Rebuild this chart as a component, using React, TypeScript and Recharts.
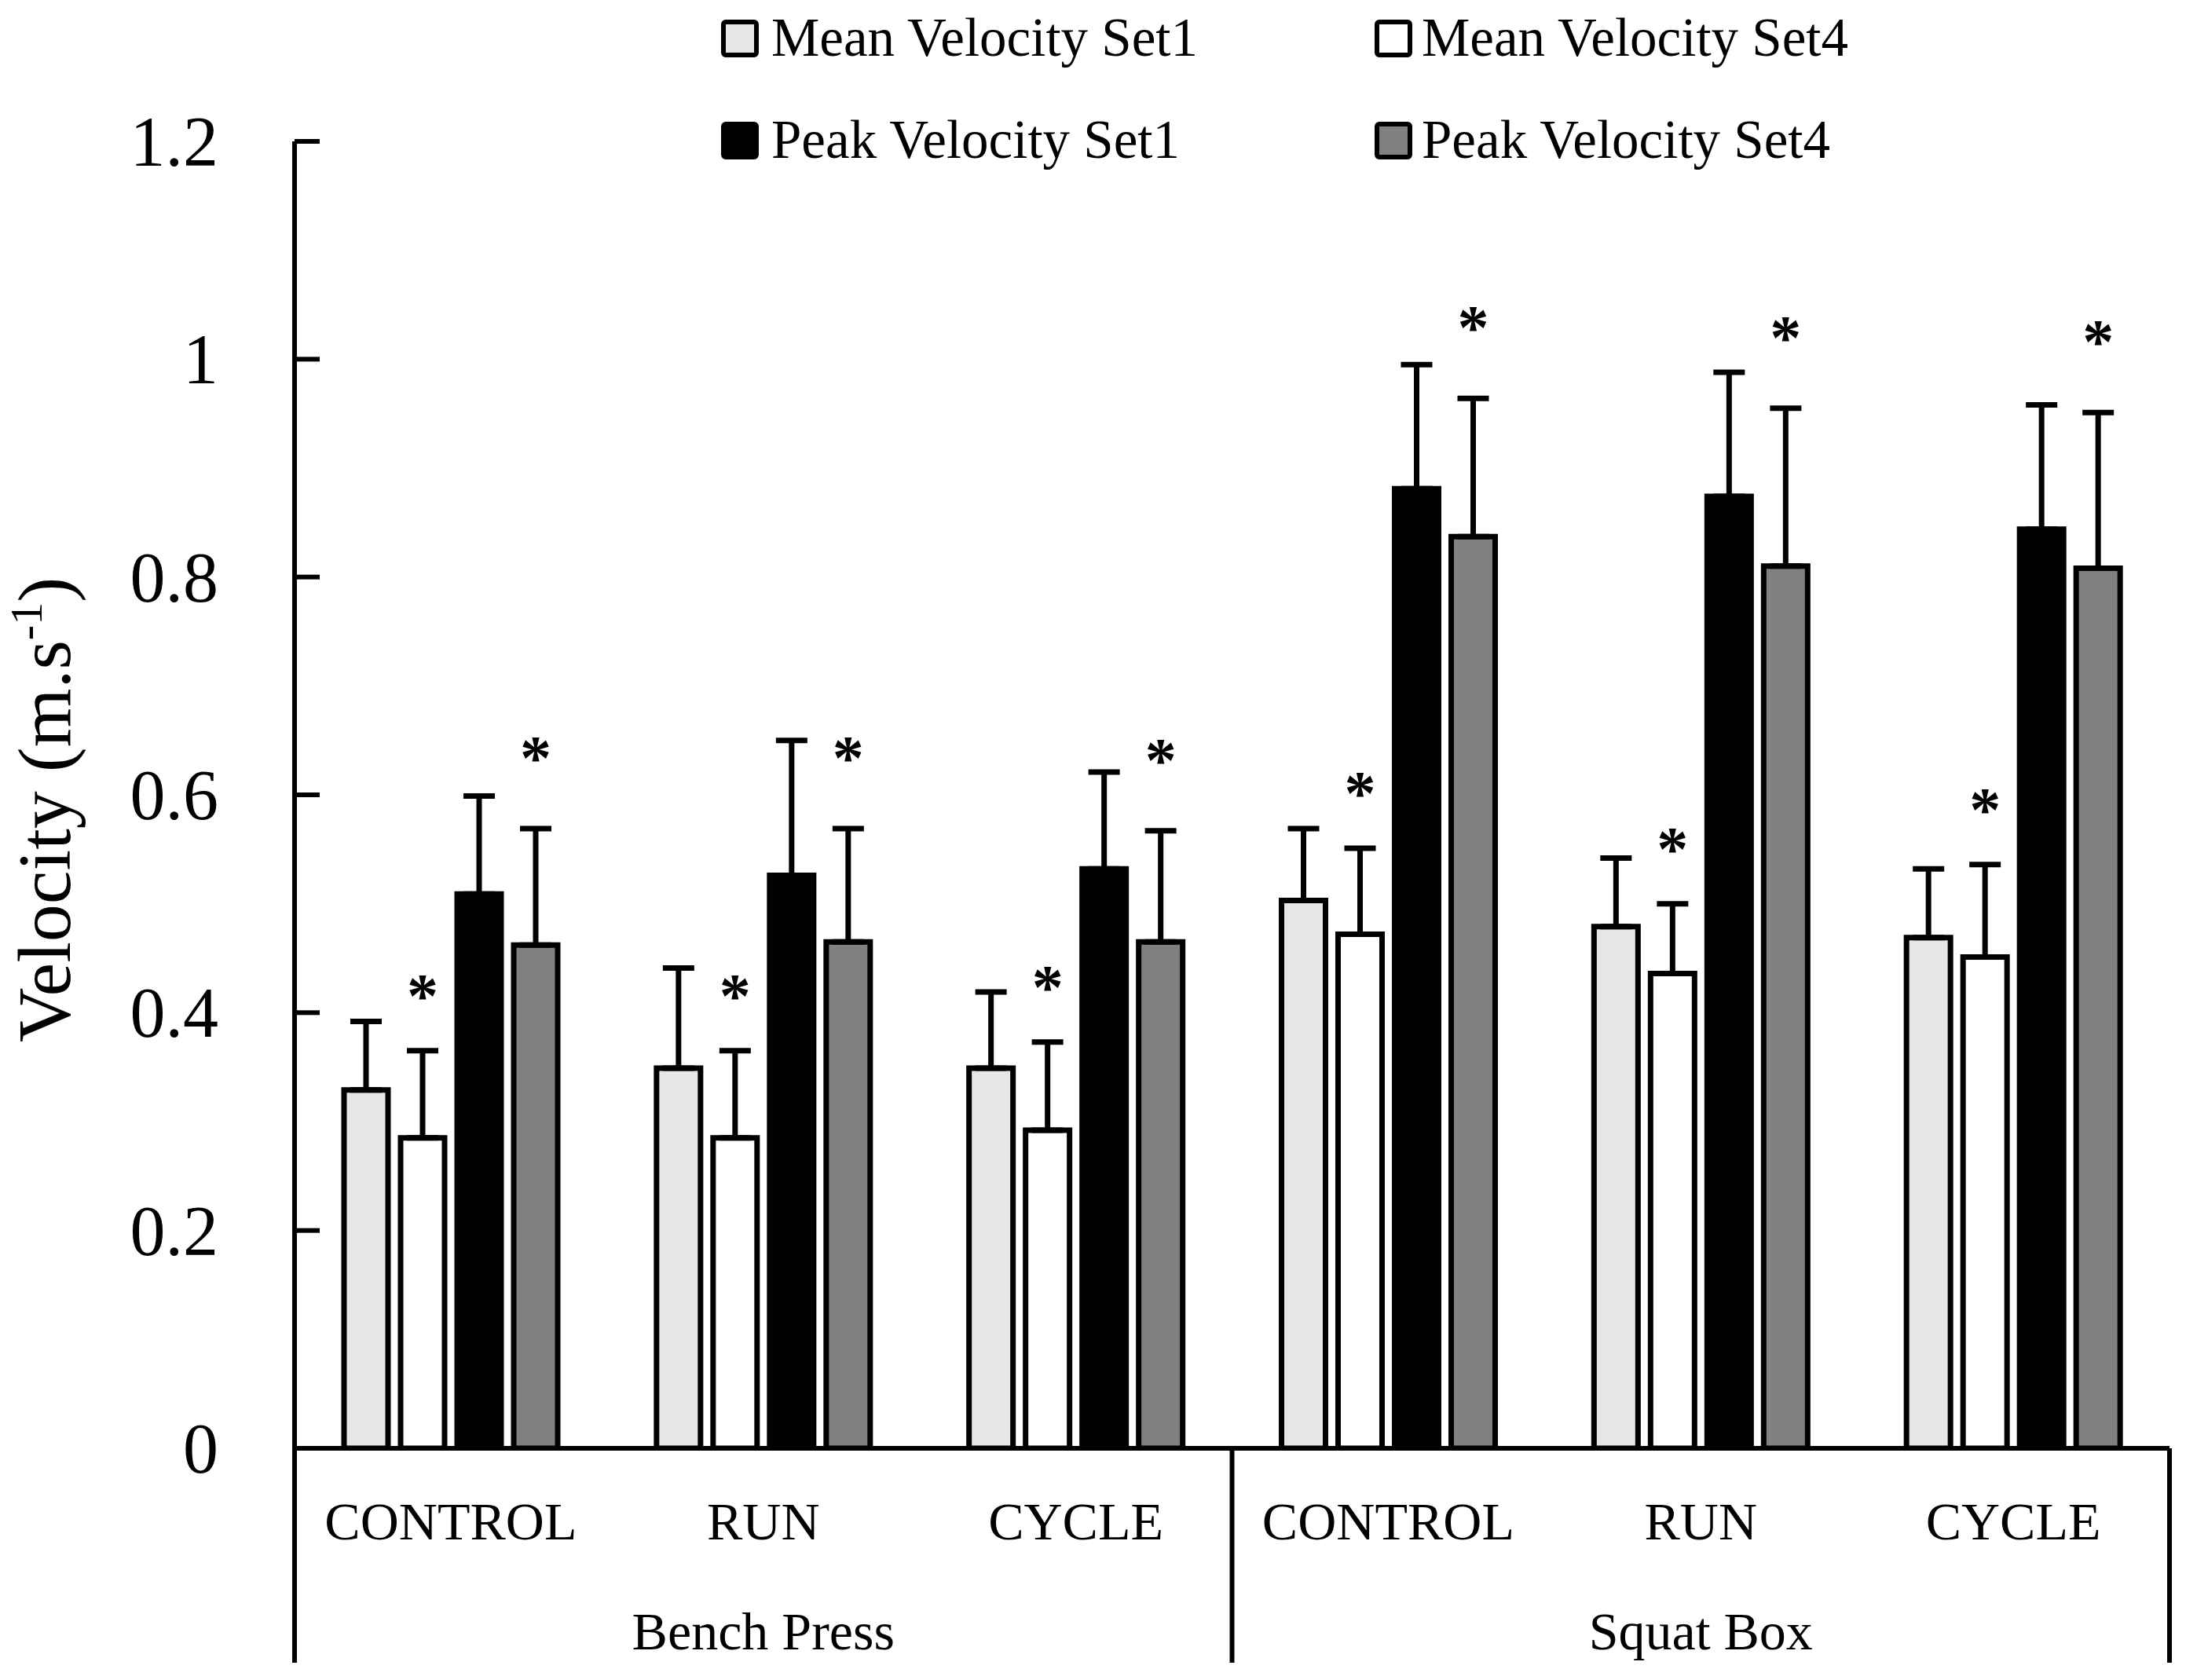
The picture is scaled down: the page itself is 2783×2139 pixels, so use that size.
import React from 'react';
import { BarChart, Bar, XAxis, YAxis, ErrorBar, LabelList, Legend } from 'recharts';

const exercises = ['Bench Press', 'Bench Press', 'Bench Press', 'Squat Box', 'Squat Box', 'Squat Box'];
const conditions = ['CONTROL', 'RUN', 'CYCLE', 'CONTROL', 'RUN', 'CYCLE'];

const meanSet1 = [0.329, 0.349, 0.349, 0.503, 0.479, 0.469];
const meanSet1Sd = [0.063, 0.092, 0.07, 0.066, 0.063, 0.063];
const meanSet4 = [0.285, 0.285, 0.292, 0.472, 0.436, 0.451];
const meanSet4Sd = [0.08, 0.08, 0.081, 0.079, 0.064, 0.085];
const peakSet1 = [0.509, 0.526, 0.532, 0.881, 0.874, 0.844];
const peakSet1Sd = [0.09, 0.124, 0.089, 0.114, 0.114, 0.114];
const peakSet4 = [0.462, 0.465, 0.465, 0.837, 0.81, 0.808];
const peakSet4Sd = [0.107, 0.104, 0.102, 0.127, 0.145, 0.143];

const yTicks = [0, 0.2, 0.4, 0.6, 0.8, 1, 1.2];
const yTickLabels = ['0', '0.2', '0.4', '0.6', '0.8', '1', '1.2'];

const data = conditions.map((c, i) => ({
  condition: c,
  exercise: exercises[i],
  mv1: meanSet1[i],
  mv1Err: [0, meanSet1Sd[i]],
  mv4: meanSet4[i],
  mv4Err: [0, meanSet4Sd[i]],
  pv1: peakSet1[i],
  pv1Err: [0, peakSet1Sd[i]],
  pv4: peakSet4[i],
  pv4Err: [0, peakSet4Sd[i]],
}));

const FONT = '"Liberation Serif", "Times New Roman", serif';

const YTick = (props: any) => {
  const { x, y, payload } = props;
  const idx = yTicks.indexOf(payload.value);
  const label = idx >= 0 ? yTickLabels[idx] : String(payload.value);
  return (
    <g>
      <line x1={x} x2={x + 32} y1={y} y2={y} stroke="#000" strokeWidth={6} />
      <text x={x - 97} y={y + 31} textAnchor="end" fontFamily={FONT} fontSize={90} fill="#000">
        {label}
      </text>
    </g>
  );
};

const XTick = (props: any) => {
  const { x, y, payload, index } = props;
  const half = payload && typeof payload.offset === 'number' ? payload.offset : 0;
  return (
    <g>
      <text x={x} y={y + 116} textAnchor="middle" fontFamily={FONT} fontSize={68} fill="#000">
        {conditions[index]}
      </text>
      {index % 3 === 1 && (
        <text x={x} y={y + 256} textAnchor="middle" fontFamily={FONT} fontSize={68} fill="#000">
          {exercises[index]}
        </text>
      )}
      {index % 3 === 0 && (
        <line x1={x - half} x2={x - half} y1={y} y2={y + 273} stroke="#000" strokeWidth={6} />
      )}
      {index === conditions.length - 1 && (
        <line x1={x + half} x2={x + half} y1={y} y2={y + 273} stroke="#000" strokeWidth={6} />
      )}
    </g>
  );
};

const makeAsterisk = (errs: number[], gap: number) => (p: any) => {
  const vb = p.viewBox || {};
  const x = typeof p.x === 'number' ? p.x : vb.x;
  const y = typeof p.y === 'number' ? p.y : vb.y;
  const width = typeof p.width === 'number' ? p.width : vb.width;
  const height = typeof p.height === 'number' ? p.height : vb.height;
  const value = Number(p.value);
  const idx = p.index;
  if (!value || x == null) return null;
  const perUnit = height / value;
  const errTop = y - errs[idx] * perUnit;
  const cy = errTop - gap;
  return (
    <text x={x + width / 2} y={cy + 37} textAnchor="middle" fontFamily={FONT} fontSize={80} fontWeight="bold" fill="#000">
      *
    </text>
  );
};

const LEG_X = [918, 1750];
const LEG_TEXT_X = [982, 1810];
const LEG_Y = [25, 155];

const renderLegend = (props: any) => {
  const payload = props.payload || [];
  return (
    <svg width={2783} height={230} style={{ display: 'block' }}>
      {payload.map((p: any, i: number) => {
        const col = i % 2;
        const row = Math.floor(i / 2);
        const fill = (p.payload && p.payload.fill) || p.color;
        return (
          <g key={i}>
            <rect x={LEG_X[col] + 3} y={LEG_Y[row] + 3} width={42} height={42} rx={3} fill={fill} stroke="#000" strokeWidth={6} />
            <text x={LEG_TEXT_X[col]} y={LEG_Y[row] + 46} fontFamily={FONT} fontSize={69} fill="#000">
              {p.value}
            </text>
          </g>
        );
      })}
    </svg>
  );
};

const YLabel = () => (
  <text
    x={89}
    y={1031}
    transform="rotate(-90, 89, 1031)"
    textAnchor="middle"
    fontFamily={FONT}
    fontSize={96}
    fill="#000"
  >
    Velocity (m.s
    <tspan fontSize={58} dy={-36}>-1</tspan>
    <tspan dy={36}>)</tspan>
  </text>
);

export default function App() {
  return (
    <div style={{ position: 'absolute', left: 0, top: 0, width: 2783, height: 2139, background: '#fff' }}>
      <BarChart
        width={2783}
        height={2139}
        data={data}
        margin={{ top: 180, right: 21, bottom: 0, left: 0 }}
        barSize={56}
        barGap={16}
      >
        <Legend
          layout="vertical"
          align="center"
          verticalAlign="middle"
          content={renderLegend}
          wrapperStyle={{ position: 'absolute', left: 0, top: 0, width: 2783, height: 230 }}
        />
        <XAxis
          dataKey="condition"
          height={295}
          interval={0}
          tickSize={0}
          tickMargin={0}
          tickLine={false}
          axisLine={{ stroke: '#000', strokeWidth: 6 }}
          tick={<XTick />}
        />
        <YAxis
          width={375}
          domain={[0, 1.2]}
          ticks={yTicks}
          interval={0}
          tickSize={0}
          tickMargin={0}
          tickLine={false}
          axisLine={{ stroke: '#000', strokeWidth: 6 }}
          tick={<YTick />}
          allowDataOverflow
        />
        <Bar dataKey="mv1" name="Mean Velocity Set1" fill="#e6e6e6" stroke="#000" strokeWidth={7} isAnimationActive={false}>
          <ErrorBar dataKey="mv1Err" width={20} stroke="#000" strokeWidth={7} direction="y" />
        </Bar>
        <Bar dataKey="mv4" name="Mean Velocity Set4" fill="#ffffff" stroke="#000" strokeWidth={7} isAnimationActive={false}>
          <ErrorBar dataKey="mv4Err" width={20} stroke="#000" strokeWidth={7} direction="y" />
          <LabelList dataKey="mv4" content={makeAsterisk(meanSet4Sd, 80)} />
        </Bar>
        <Bar dataKey="pv1" name="Peak Velocity Set1" fill="#000000" stroke="#000" strokeWidth={7} isAnimationActive={false}>
          <ErrorBar dataKey="pv1Err" width={20} stroke="#000" strokeWidth={7} direction="y" />
        </Bar>
        <Bar dataKey="pv4" name="Peak Velocity Set4" fill="#808080" stroke="#000" strokeWidth={7} isAnimationActive={false}>
          <ErrorBar dataKey="pv4Err" width={20} stroke="#000" strokeWidth={7} direction="y" />
          <LabelList dataKey="pv4" content={makeAsterisk(peakSet4Sd, 100)} />
        </Bar>
      </BarChart>
      <svg width={2783} height={2139} style={{ position: 'absolute', left: 0, top: 0, pointerEvents: 'none' }}>
        <YLabel />
      </svg>
    </div>
  );
}
